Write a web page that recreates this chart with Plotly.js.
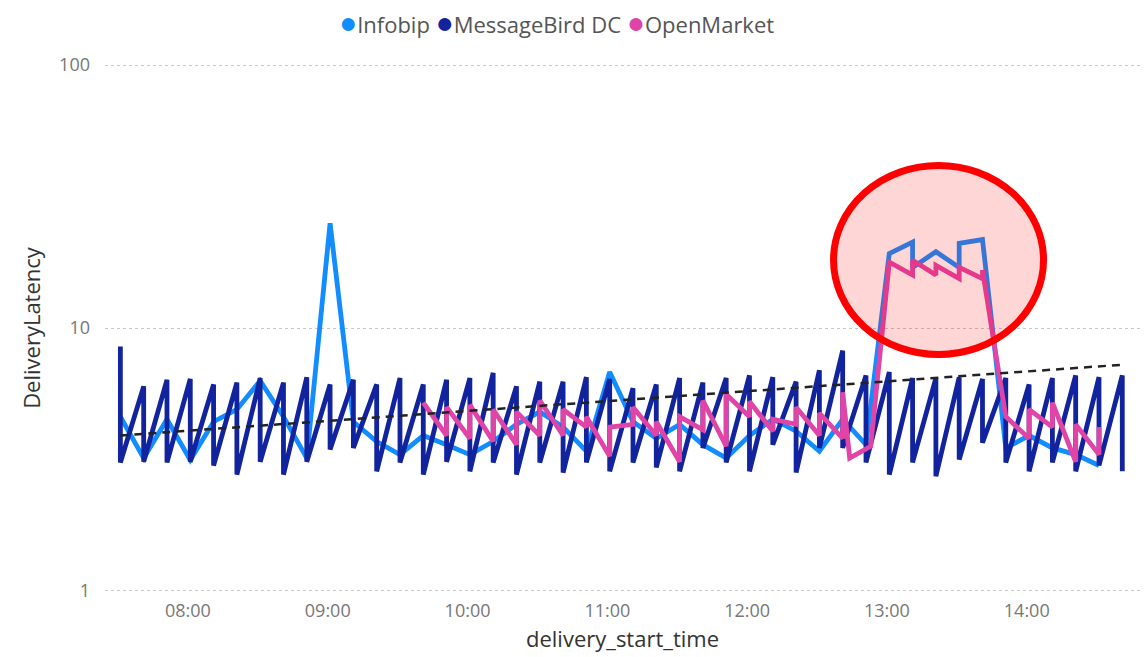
<!DOCTYPE html>
<html>
<head>
<meta charset="utf-8">
<script src="https://cdn.plot.ly/plotly-3.0.1.min.js"></script>
<style>html,body{margin:0;padding:0;background:#fff;}#chart{width:1146px;height:657px;}</style>
</head>
<body>
<div id="chart"></div>
<script>
const day = '2024-01-01 ';

// MessageBird DC: each 10-minute bucket has a high and a low reading
const mbTimes = ['07:31','07:41','07:51','08:01','08:11','08:21','08:31','08:41','08:51','09:01',
  '09:11','09:21','09:31','09:41','09:51','10:01','10:11','10:21','10:31','10:41',
  '10:51','11:01','11:11','11:21','11:31','11:41','11:51','12:01','12:11','12:21',
  '12:31','12:41','12:51','13:01','13:11','13:21','13:31','13:41','13:51','14:01',
  '14:11','14:21','14:31','14:41'];
const mbHigh = [8.5,6.0,6.35,6.4,6.1,6.2,6.45,6.2,6.5,6.1,
  6.35,6.1,6.45,6.1,6.35,6.45,6.75,6.0,6.25,6.25,
  6.5,6.4,5.9,6.1,6.45,6.2,6.45,6.6,6.5,6.25,
  6.9,8.2,6.6,6.8,6.45,6.45,6.5,6.4,6.45,6.1,
  6.45,6.6,6.5,6.6];
const mbLow = [3.08,3.1,3.08,3.1,3.0,2.77,3.1,2.77,3.1,3.45,
  3.5,2.85,3.08,2.77,3.1,2.85,3.08,2.77,3.08,2.82,
  3.08,2.85,3.08,2.95,2.85,3.5,3.08,2.85,3.6,2.82,
  3.5,3.5,3.08,2.77,3.08,2.73,3.16,3.66,3.08,2.85,
  3.08,2.85,3.0,2.85];

// Infobip
const ibTimes = ['07:31','07:41','07:51','08:01','08:11','08:21','08:31','08:41','08:51','09:01',
  '09:11','09:21','09:31','09:41','09:51','10:01','10:11','10:21','10:31','10:41',
  '10:51','11:01','11:11','11:21','11:31','11:41','11:51','12:01','12:11','12:21',
  '12:31','12:41','12:51','13:01','13:11','13:11','13:21','13:31','13:31','13:41',
  '13:51','14:01','14:11','14:21','14:31'];
const ibValues = [4.6,3.2,4.5,3.15,4.4,4.9,6.3,4.6,3.2,25,
  4.4,3.7,3.3,3.9,3.6,3.3,3.7,4.3,4.8,4.2,
  3.4,6.8,4.4,3.8,4.3,3.6,3.2,3.9,4.5,4.05,
  3.4,4.5,3.6,19.2,21.2,17.0,19.5,17.0,21.0,21.7,
  3.5,3.9,3.5,3.3,3.0];

// OpenMarket
const omTimes = ['09:41','09:51','09:51','10:01','10:01','10:11','10:11','10:21','10:21','10:31','10:31',
  '10:41','10:41','10:51','10:51','11:01','11:01','11:11','11:11','11:21','11:21',
  '11:31','11:31','11:41','11:41','11:51','11:51','12:01','12:01','12:11','12:11',
  '12:21','12:21','12:31','12:31','12:41','12:41','12:44','12:53','13:01',
  '13:11','13:11','13:21','13:21','13:31','13:31','13:41','13:41','13:51',
  '14:01','14:01','14:11','14:11','14:21','14:21','14:31','14:31'];
const omValues = [5.2,3.9,5.0,3.8,5.1,3.7,4.9,3.6,4.8,3.9,5.3,
  3.9,4.9,4.2,4.6,3.25,4.2,4.3,5.0,3.9,4.4,
  3.1,4.6,4.1,5.3,3.55,5.6,4.6,5.25,4.05,4.5,
  4.3,5.0,3.9,4.75,3.8,5.7,3.2,3.55,17.8,
  15.9,18.1,15.9,17.3,15.4,17.0,15.4,16.6,4.6,
  3.8,4.9,4.2,5.2,3.1,4.3,3.3,4.2];

// Trend line end points
const trendTimes = ['07:31','14:41'];
const trendValues = [3.9,7.25];

const seriesNames = ['Infobip','MessageBird DC','OpenMarket'];
const seriesColors = ['#118DFF','#12239E','#E044A7'];

const mbX = [], mbY = [];
mbTimes.forEach((t,i)=>{ mbX.push(day+t, day+t); mbY.push(mbHigh[i], mbLow[i]); });

const lw = 4.8;
const traces = [
  {x: ibTimes.map(t=>day+t), y: ibValues, name: seriesNames[0], type:'scatter', mode:'lines',
   line:{color:seriesColors[0], width:lw}, showlegend:false},
  {x: mbX, y: mbY, name: seriesNames[1], type:'scatter', mode:'lines',
   line:{color:seriesColors[1], width:lw}, showlegend:false},
  {x: omTimes.map(t=>day+t), y: omValues, name: seriesNames[2], type:'scatter', mode:'lines',
   line:{color:seriesColors[2], width:lw}, showlegend:false},
  {x: trendTimes.map(t=>day+t), y: trendValues, name:'Trend', type:'scatter', mode:'lines',
   line:{color:'#222', width:2.5, dash:'8px,6px'}, showlegend:false}
];

const legendText = seriesNames.map((n,i)=>'<span style="color:'+seriesColors[i]+';font-size:30px">●</span>'+n).join(' ');

const layout = {
  width:1146, height:657,
  margin:{l:105, r:6, t:64, b:65},
  paper_bgcolor:'#fff', plot_bgcolor:'#fff',
  font:{family:'"Open Sans", "Noto Sans", sans-serif', color:'#666'},
  showlegend:false,
  xaxis:{
    type:'date',
    range:[day+'07:24:24', day+'14:48:36'],
    tick0: day+'08:00', dtick:3600000, tickformat:'%H:%M',
    showgrid:false, zeroline:false, showline:false, ticks:'',
    tickfont:{size:18, color:'#777'}, ticklabelstandoff:6,
    title:{text:'delivery_start_time', font:{size:22, color:'#333'}, standoff:10}
  },
  yaxis:{
    type:'log', range:[-0.004, 2.004],
    tickvals:[1,10,100], ticktext:['1','10','100'],
    showgrid:true, gridcolor:'#c8c8c8', griddash:'dot', gridwidth:1,
    zeroline:false, showline:false, ticks:'',
    tickfont:{size:18, color:'#777'}, ticklabelstandoff:14,
    title:{text:'DeliveryLatency', font:{size:22, color:'#333'}, standoff:12}
  },
  annotations:[{
    xref:'paper', yref:'paper', x:0.4367, y:1.081, xanchor:'center', yanchor:'middle',
    showarrow:false, text:legendText, font:{size:22, color:'#555'}
  }],
  shapes:[{
    type:'circle', xref:'paper', yref:'paper', layer:'above',
    x0:0.7039, x1:0.9068, y0:0.4498, y1:0.8078,
    line:{color:'#FF0000', width:7}, fillcolor:'rgba(255,0,0,0.16)'
  }]
};

Plotly.newPlot('chart', traces, layout, {displayModeBar:false, staticPlot:true});
</script>
</body>
</html>
